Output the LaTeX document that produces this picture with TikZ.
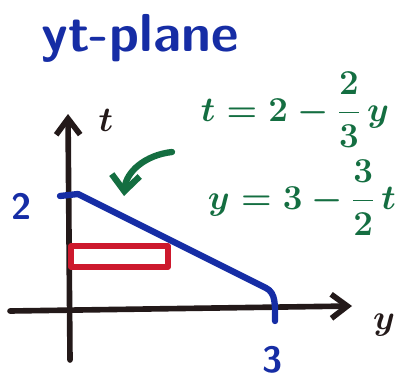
\documentclass[tikz,border=0pt]{standalone}
\usepackage{amsmath}
\usepackage{xcolor}
\usepackage{tikz}
\usetikzlibrary{arrows.meta, positioning, calc}
\definecolor{penblue}{RGB}{22, 45, 165}
\definecolor{pengreen}{RGB}{20, 110, 65}
\definecolor{penred}{RGB}{205, 25, 45}
\definecolor{penblack}{RGB}{35, 25, 25}

\begin{document}
\begin{tikzpicture}[
  x=0.25mm, y=-0.25mm,
  every node/.style={font=\sffamily\bfseries},
  axis/.style={draw=penblack, line width=4pt, line cap=round, -{Straight Barb[length=4mm, width=6mm, line width=4pt]}},
  bluepen/.style={draw=penblue, line width=4.5pt, line cap=round, line join=round},
  redpen/.style={draw=penred, line width=4pt, line join=round},
  greenarrow/.style={draw=pengreen, line width=4.5pt, line cap=round, -{Straight Barb[length=4mm, width=7mm, line width=4.5pt]}},
  title/.style={text=penblue, font=\sffamily\bfseries\fontsize{38}{40}\selectfont},
  eqn/.style={text=pengreen, font=\boldmath\fontsize{26}{28}\selectfont},
  axlabel/.style={text=penblack, font=\boldmath\fontsize{30}{32}\selectfont},
  ticklabel/.style={text=penblue, font=\sffamily\bfseries\fontsize{26}{28}\selectfont}
]
  \useasboundingbox (0,0) rectangle (411,383);

  % Titel
  \node[title] (title) at (140, 38) {yt-plane};

  % Achsen
  \coordinate (tbot) at (70, 360);
  \coordinate (ttop) at (68, 114);
  \coordinate (yleft) at (10, 311);
  \coordinate (yright) at (352, 306);
  \draw[axis] (tbot) -- (ttop);
  \draw[axis] (yleft) -- (yright);
  \node[axlabel] (tlab) at (106, 120) {$t$};
  \node[axlabel] (ylab) at (384, 325) {$y$};

  % Gerade von t=2 bis y=3
  \coordinate (tick2) at (60, 196);
  \coordinate (t2) at (78, 194);
  \coordinate (bend) at (266, 288);
  \coordinate (y3) at (275, 321);
  \draw[bluepen] (tick2) -- (t2) -- (bend) .. controls (276, 293) and (275, 305) .. (y3);
  \node[ticklabel] (two) at (22, 206) {2};
  \node[ticklabel] (three) at (273, 360) {3};

  % Streifen
  \draw[redpen] (71, 246) rectangle (168, 267);

  % Gleichungen
  \node[eqn] (eqt) at (295, 110) {$t = 2 - \dfrac{2}{3}\,y$};
  \node[eqn] (eqy) at (302, 198) {$y = 3 - \dfrac{3}{2}\,t$};

  \coordinate (arrstart) at (172, 152);
  \coordinate (arrend) at (124, 196);
  \draw[greenarrow] (arrstart) .. controls (145, 155) and (126, 172) .. (arrend);

\end{tikzpicture}
\end{document}
